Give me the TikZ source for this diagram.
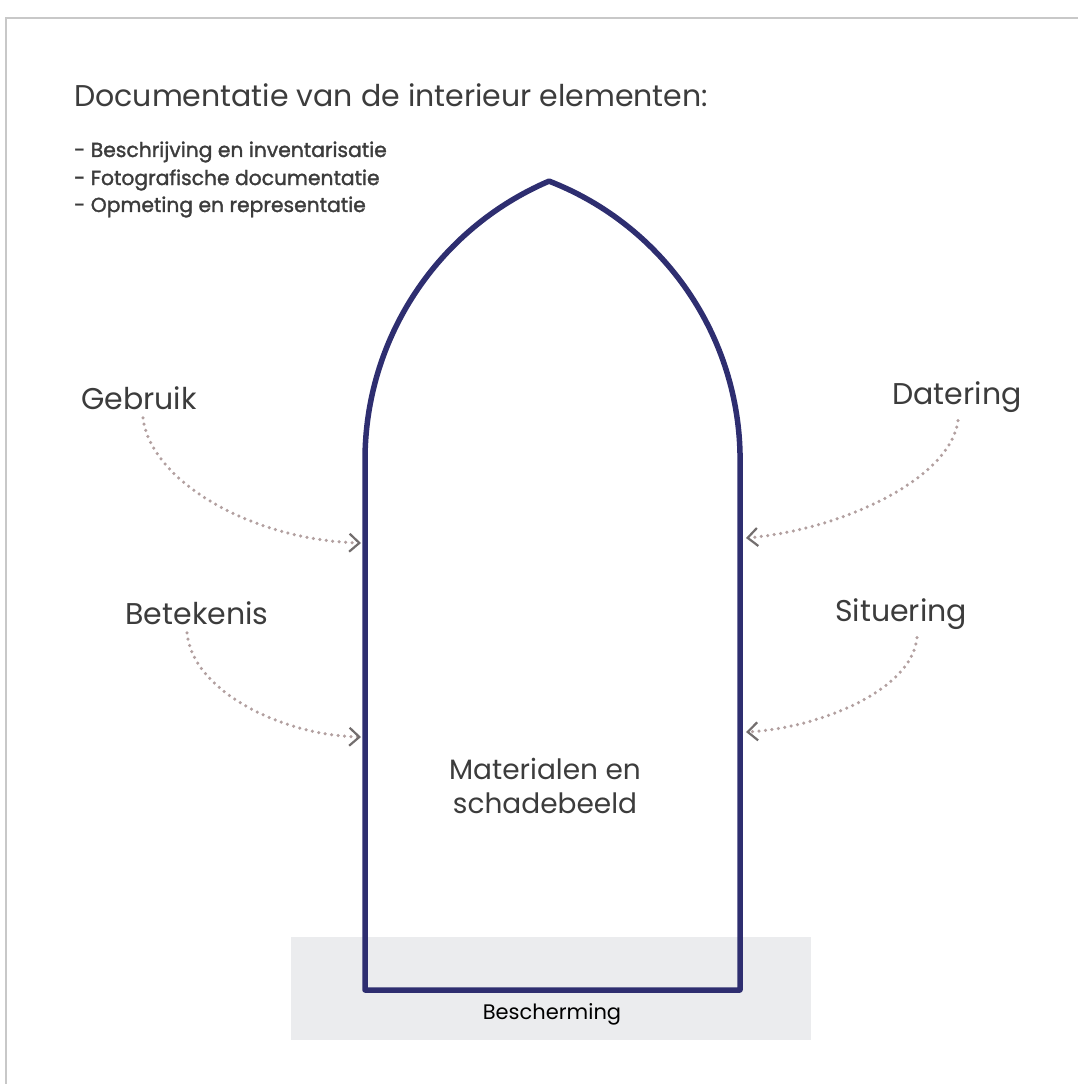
\documentclass[tikz,border=0pt]{standalone}
\usepackage{fontspec}
\setmainfont{Poppins}
\newfontfamily\bulfont[FakeBold=1.5]{Poppins}
\usetikzlibrary{arrows.meta}
\definecolor{navy}{RGB}{46,46,112}
\definecolor{txt}{RGB}{60,60,60}
\definecolor{dotc}{RGB}{178,160,160}
\definecolor{tipc}{RGB}{115,110,110}
\definecolor{boxc}{RGB}{235,236,238}
\definecolor{framec}{RGB}{200,200,200}
\begin{document}
\begin{tikzpicture}[x=1pt,y=1pt,
  lbl/.style={font=\fontsize{30}{34}\selectfont, text=txt, inner sep=0pt},
  bul/.style={font=\bulfont\fontsize{20.3}{27}\selectfont, text=txt, inner sep=0pt, anchor=west},
  link/.style={draw=dotc, line width=3.5pt, dash pattern=on 0pt off 6.5pt, line cap=round,
    -{Straight Barb[length=10pt,width=18pt,line width=2.2pt,color=tipc]}},
  outline/.style={draw=navy, line width=5.5pt, line join=round}
]
\useasboundingbox (0,0) rectangle (1078,-1084);
% frame of the screenshot
\draw[framec, line width=2pt] (6,-1084) -- (6,-18) -- (1078,-18);
% protection box
\fill[boxc] (291,-937) rectangle (811,-1040);
\node[font=\fontsize{21}{24}\selectfont, text=black, inner sep=0pt] (besch) at (552,-1014) {Bescherming};
% outline of the interior element
\draw[outline] (365,-460) arc[start angle=180, end angle=113.15, radius=303.3]
  arc[start angle=68.79, end angle=0, radius=299.3]
  -- (740,-990) -- (365,-990) -- cycle;
% texts
\node[lbl, anchor=west] (title) at (74,-95) {Documentatie van de interieur elementen:};
\node[bul] (l1) at (74,-152) {- Beschrijving en inventarisatie};
\node[bul] (l2) at (74,-180) {- Fotografische documentatie};
\node[bul] (l3) at (74,-207) {- Opmeting en representatie};
\node[lbl] (geb) at (139,-398) {Gebruik};
\node[lbl] (dat) at (957,-397) {Datering};
\node[lbl] (bet) at (197,-613) {Betekenis};
\node[lbl] (sit) at (901,-614) {Situering};
\node[lbl, align=center, font=\fontsize{28}{34}\selectfont] (mat) at (545,-786) {Materialen en\\schadebeeld};
% arrow end points on the outline
\coordinate (gE) at (361,-543);
\coordinate (bE) at (361,-737);
\coordinate (dE) at (746,-538);
\coordinate (sE) at (746,-732);
\draw[link] ([xshift=4pt,yshift=-8pt]geb.south) .. controls (150,-480) and (250,-540) .. (gE);
\draw[link] ([xshift=-10pt,yshift=-8pt]bet.south) .. controls (192,-690) and (280,-735) .. (bE);
\draw[link] ([xshift=1pt,yshift=-8pt]dat.south) .. controls (950,-480) and (840,-530) .. (dE);
\draw[link] ([xshift=16pt,yshift=-8pt]sit.south) .. controls (912,-690) and (820,-728) .. (sE);
\end{tikzpicture}
\end{document}
